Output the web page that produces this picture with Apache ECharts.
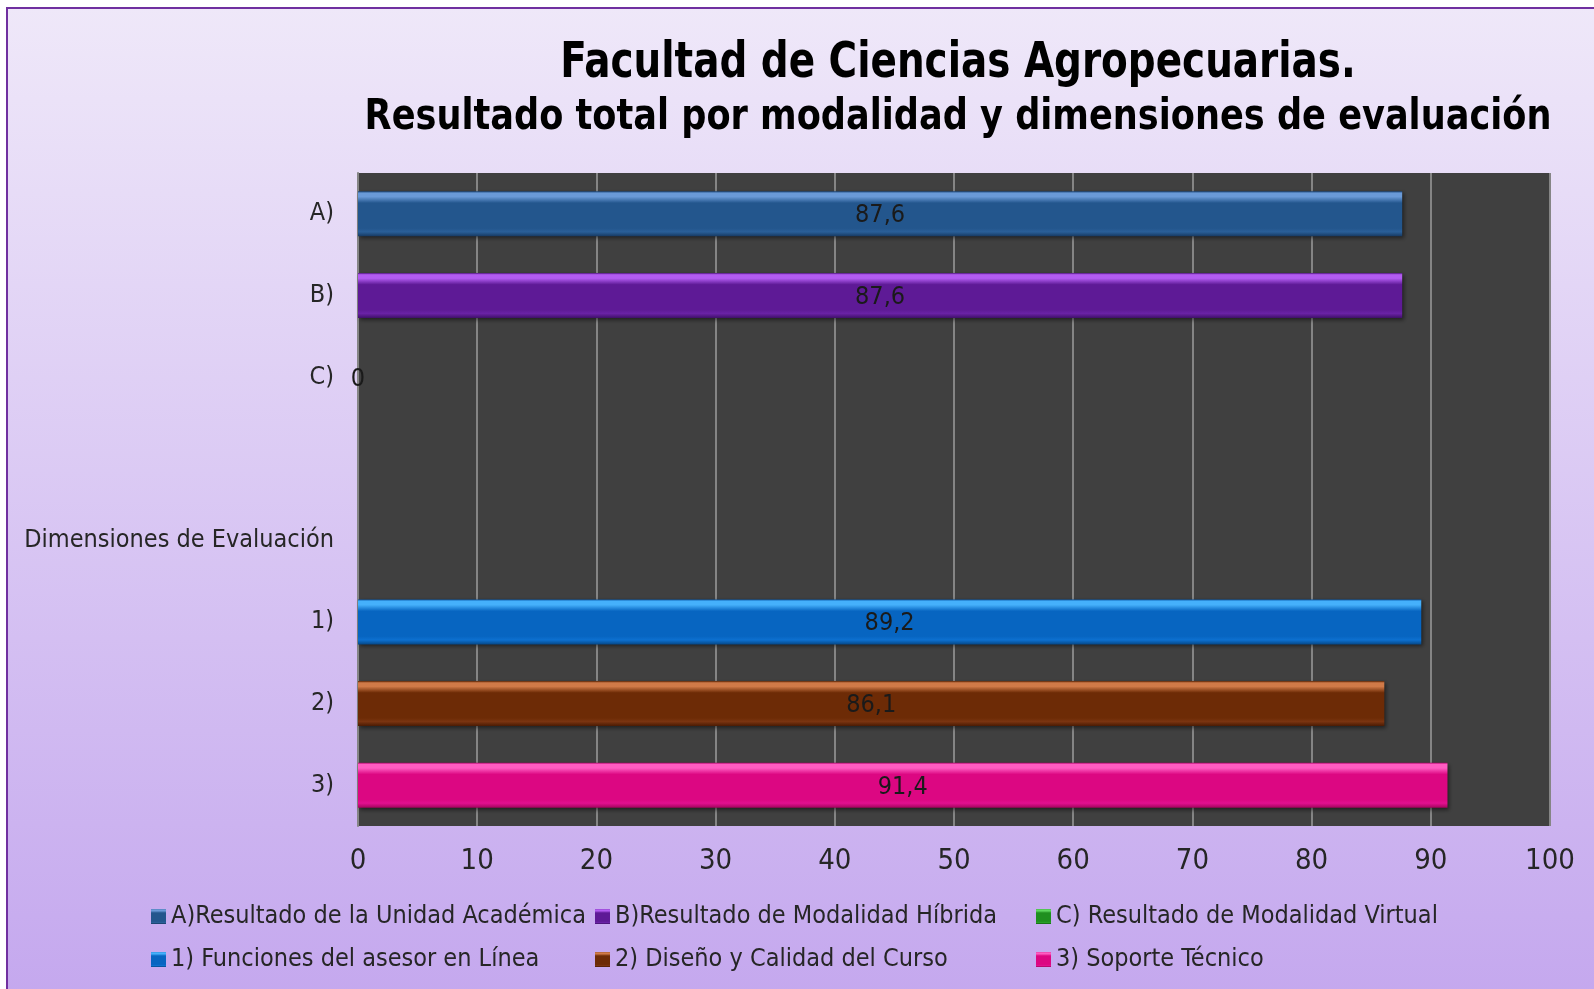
<!DOCTYPE html>
<html>
<head>
<meta charset="utf-8">
<script src="https://cdn.jsdelivr.net/npm/echarts@6/dist/echarts.min.js"></script>
<style>html,body{margin:0;padding:0;background:#fff;}#c{width:1594px;height:989px;}</style>
</head>
<body>
<div id="c"></div>
<script>
const categories = ['A)', 'B)', 'C)', '', 'Dimensiones de Evaluación', '1)', '2)', '3)'];
const seriesNames = [
  'A)Resultado de la Unidad Académica',
  'B)Resultado de Modalidad Híbrida',
  'C) Resultado de Modalidad Virtual',
  '1) Funciones del asesor en Línea',
  '2) Diseño y Calidad del Curso',
  '3) Soporte Técnico'
];
const seriesValues = [87.6, 87.6, 0, 89.2, 86.1, 91.4];
const seriesCategory = ['A)', 'B)', 'C)', '1)', '2)', '3)'];
const xTicks = [0, 10, 20, 30, 40, 50, 60, 70, 80, 90, 100];
const titleLines = ['Facultad de Ciencias Agropecuarias.', 'Resultado total por modalidad y dimensiones de evaluación'];

const palette = [
  {edge: '#1a4578', top: '#6a9ad8', mid: '#23568d', low: '#2a5f98', bot: '#163962'},
  {edge: '#4a137a', top: '#b35cf2', mid: '#5e1a96', low: '#6a22a6', bot: '#40106a'},
  {edge: '#146614', top: '#5fd85f', mid: '#1f8f1f', low: '#28a028', bot: '#125c12'},
  {edge: '#0a58a8', top: '#45b0fb', mid: '#0765c1', low: '#0d70d0', bot: '#054888'},
  {edge: '#5a2405', top: '#d07a48', mid: '#6d2b06', low: '#7a3410', bot: '#4a1b03'},
  {edge: '#b0066c', top: '#ff5cc2', mid: '#dc0782', low: '#e21090', bot: '#a3055d'}
];
const FONT = "'DejaVu Sans Condensed', 'Liberation Sans Narrow', sans-serif";

function grad(p) {
  return new echarts.graphic.LinearGradient(0, 0, 0, 1, [
    {offset: 0, color: p.edge},
    {offset: 0.04, color: p.top},
    {offset: 0.12, color: p.top},
    {offset: 0.26, color: p.mid},
    {offset: 0.82, color: p.mid},
    {offset: 0.9, color: p.low},
    {offset: 1, color: p.bot}
  ]);
}

const series = seriesNames.map((name, i) => {
  const data = categories.map(c => c === seriesCategory[i] ? seriesValues[i] : null);
  return {
    name: name,
    type: 'bar',
    data: data,
    barWidth: 45,
    barGap: '-100%',
    itemStyle: {color: grad(palette[i]), shadowColor: 'rgba(0,0,0,0.5)', shadowBlur: 4, shadowOffsetX: 2, shadowOffsetY: 2},
    label: {
      show: true,
      position: 'inside',
      color: '#1a1a1a',
      fontFamily: FONT,
      fontSize: 25,
      offset: [0, 2],
      formatter: p => String(p.value).replace('.', ',')
    }
  };
});

const legendCols = [[0, 3], [1, 4], [2, 5]];
const legendLeft = [146, 590, 1031];
const legends = legendCols.map((col, k) => ({
  orient: 'vertical',
  left: legendLeft[k],
  top: 899,
  itemWidth: 15,
  itemHeight: 15,
  itemGap: 18,
  icon: 'rect',
  data: col.map(i => seriesNames[i]),
  textStyle: {color: '#262626', fontFamily: FONT, fontSize: 25},
  selectedMode: false
}));

const chart = echarts.init(document.getElementById('c'));
chart.setOption({
  animation: false,
  graphic: [{
    type: 'rect',
    z: -10,
    shape: {x: 7, y: 8, width: 1600, height: 1000},
    style: {
      fill: new echarts.graphic.LinearGradient(0, 0, 0, 1, [
        {offset: 0, color: '#efe8f9'},
        {offset: 1, color: '#c4a7ee'}
      ]),
      stroke: '#7030a0',
      lineWidth: 2
    }
  }, {
    type: 'text', x: 958, y: 64, scaleX: 0.865, z: 10,
    style: {text: titleLines[0], fontFamily: FONT, fontWeight: 'bold', fontSize: 50, fill: '#000', align: 'center', verticalAlign: 'middle'}
  }, {
    type: 'text', x: 958, y: 118, scaleX: 0.93, z: 10,
    style: {text: titleLines[1], fontFamily: FONT, fontWeight: 'bold', fontSize: 42, fill: '#000', align: 'center', verticalAlign: 'middle'}
  }],
  legend: legends,
  grid: {left: 358, right: 44, top: 173, bottom: 163, show: true, backgroundColor: '#404040', borderWidth: 0, containLabel: false},
  xAxis: {
    type: 'value', min: xTicks[0], max: xTicks[xTicks.length - 1], interval: 10,
    axisLine: {show: false},
    axisTick: {show: false},
    splitLine: {show: true, lineStyle: {color: '#858585', width: 2}},
    axisLabel: {color: '#262626', fontFamily: FONT, fontSize: 29, margin: 21}
  },
  yAxis: {
    type: 'category', data: categories, inverse: true,
    axisLine: {show: true, lineStyle: {color: '#858585', width: 2}},
    axisTick: {show: false},
    axisLabel: {color: '#262626', fontFamily: FONT, fontSize: 25, margin: 24, padding: [3, 0, 0, 0]}
  },
  series: series
});
</script>
</body>
</html>
